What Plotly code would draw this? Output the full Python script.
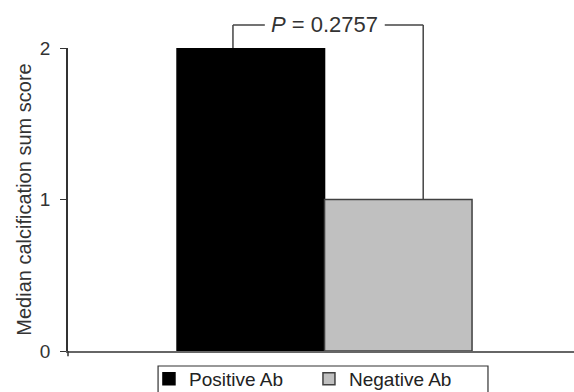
import plotly.graph_objects as go

groups = ["Positive Ab", "Negative Ab"]
medians = [2, 1]
colors = ["#000000", "#c0c0c0"]
line_colors = ["#000000", "#404040"]
p_label = "<i>P</i> = 0.2757"
y_ticks = [0, 1, 2]
y_range = [0, 2]

fig = go.Figure()
for g, v, c, lc in zip(groups, medians, colors, line_colors):
    fig.add_trace(go.Bar(
        x=[""], y=[v], name=g,
        marker=dict(color=c, line=dict(color=lc, width=1.5)),
    ))

def to_paper(v):
    return (v - y_range[0]) / (y_range[1] - y_range[0])

# Bracket for p-value
br_left, br_right = -0.181, 0.195
br_top = 2.152
gap_l, gap_r = -0.118, 0.119
line_style = dict(color="#444444", width=1.5)
top_p = to_paper(br_top)
fig.add_shape(type="line", xref="x", yref="paper", x0=br_left, x1=br_left, y0=to_paper(medians[0]), y1=top_p, line=line_style)
fig.add_shape(type="line", xref="x", yref="paper", x0=br_left, x1=gap_l, y0=top_p, y1=top_p, line=line_style)
fig.add_shape(type="line", xref="x", yref="paper", x0=gap_r, x1=br_right, y0=top_p, y1=top_p, line=line_style)
fig.add_shape(type="line", xref="x", yref="paper", x0=br_right, x1=br_right, y0=to_paper(medians[1]), y1=top_p, line=line_style)
fig.add_annotation(x=0, y=top_p, xref="x", yref="paper", text=p_label, showarrow=False,
                   font=dict(size=22, color="#333333"), xanchor="center", yanchor="middle")

# small tick below the x axis at the y-axis
fig.add_shape(type="line", xref="paper", yref="paper", x0=0, x1=0, y0=0, y1=-0.017,
              line=dict(color="#333333", width=1.5))
# legend frame
fig.add_shape(type="rect", xref="paper", yref="paper", x0=0.178, x1=0.83, y0=-0.0495, y1=-0.2,
              line=dict(color="#333333", width=1.2), fillcolor="rgba(0,0,0,0)")

fig.update_layout(
    width=574, height=392,
    margin=dict(l=68, r=0, t=48, b=41, autoexpand=False),
    paper_bgcolor="white", plot_bgcolor="white",
    barmode="group", bargap=0.417, bargroupgap=0,
    font=dict(family="Liberation Sans, Arial, sans-serif", size=19, color="#333333"),
    showlegend=True,
    legend=dict(orientation="h", x=0.160, xanchor="left", y=-0.0297, yanchor="top",
                borderwidth=0, bgcolor="rgba(0,0,0,0)",
                font=dict(size=19, color="#222222"), entrywidth=115, entrywidthmode="pixels",
                itemwidth=30),
)
fig.update_xaxes(range=[-0.507, 0.493], showline=True, linecolor="#666666", linewidth=1.5,
                 showticklabels=False, ticks="", showgrid=False, zeroline=False, fixedrange=True,
                 automargin=False)
fig.update_yaxes(range=y_range, tickvals=y_ticks, ticks="outside", ticklen=6, tickcolor="#333333",
                 showline=True, linecolor="#333333", linewidth=1.5, showgrid=False, zeroline=False,
                 tickfont=dict(size=19, color="#333333"), ticklabelstandoff=6, automargin=False,
                 title=dict(text="Median calcification sum score", font=dict(size=20, color="#333333"), standoff=3))

fig.write_html("out.html", config={"displayModeBar": False},
               post_script="document.body.style.margin='0';document.body.style.overflow='hidden';")
